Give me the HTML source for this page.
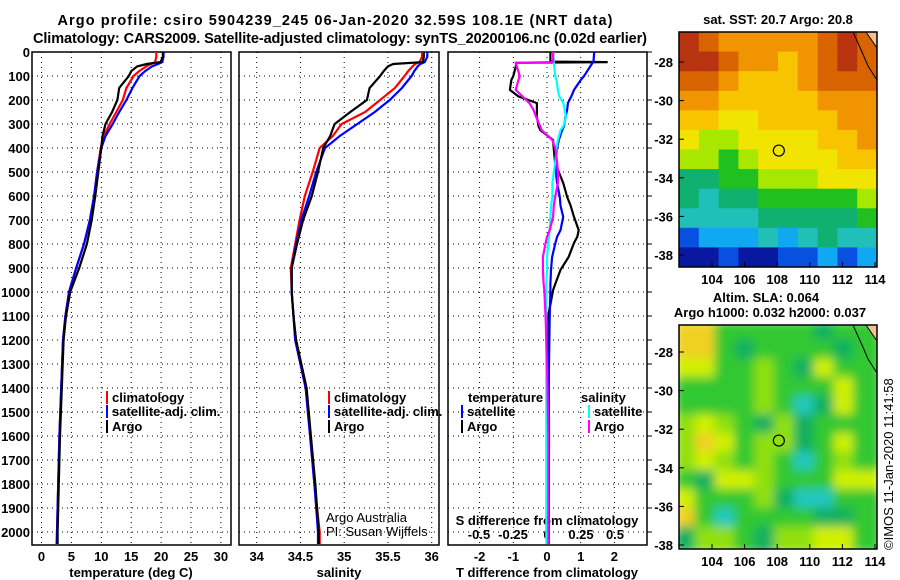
<!DOCTYPE html>
<html><head><meta charset="utf-8"><style>
body{margin:0;background:#fff}
svg{display:block;font-family:"Liberation Sans",Arial,sans-serif}
.b{font-weight:bold;font-size:13px}
</style></head><body>
<svg id="s" width="900" height="580" viewBox="0 0 900 580" xmlns="http://www.w3.org/2000/svg">
<defs><filter id="blur" x="0" y="0" width="100%" height="100%"><feGaussianBlur stdDeviation="5"/></filter>
<clipPath id="c1"><rect x="679" y="32" width="198" height="235"/></clipPath>
<clipPath id="c2"><rect x="679" y="325" width="198" height="224"/></clipPath></defs>
<text class="b" x="335" y="25" text-anchor="middle" style="font-size:14.5px" textLength="555">Argo profile: csiro 5904239_245 06-Jan-2020 32.59S 108.1E (NRT data)</text>
<text class="b" x="340" y="43" text-anchor="middle" style="font-size:14.5px" textLength="614">Climatology: CARS2009. Satellite-adjusted climatology: synTS_20200106.nc (0.02d earlier)</text>
<text class="b" x="778" y="24" text-anchor="middle">sat. SST: 20.7 Argo: 20.8</text>
<text class="b" x="766" y="302" text-anchor="middle">Altim. SLA: 0.064</text>
<text class="b" x="770" y="317" text-anchor="middle">Argo h1000: 0.032 h2000: 0.037</text>
<text x="893" y="550" transform="rotate(-90 893 550)" font-size="13">©IMOS 11-Jan-2020 11:41:58</text>
<text x="326" y="522" font-size="13">Argo Australia</text>
<text x="326" y="536" font-size="13">PI: Susan Wijffels</text>
<text class="b" x="131" y="577" text-anchor="middle">temperature (deg C)</text>
<text class="b" x="339" y="577" text-anchor="middle">salinity</text>
<text class="b" x="547" y="577" text-anchor="middle">T difference from climatology</text>
<text class="b" x="547" y="525" text-anchor="middle">S difference from climatology</text>
</svg>
<script>
const depths=[0,20,42,50,60,80,100,150,200,250,300,350,400,500,600,700,800,900,1000,1100,1200,1400,1600,1800,2000,2050];
const tClim=[19.2,19.2,19.0,18.3,17.5,16.3,15.4,14.2,13.6,12.5,11.4,10.4,9.9,9.3,8.8,8.1,7.1,5.8,4.6,4.0,3.6,3.3,3.0,2.8,2.6,2.5];
const tSat=[20.4,20.4,20.2,19.5,18.5,17.3,16.4,15.2,14.2,13.0,11.9,10.7,10.0,9.3,8.8,8.1,7.1,5.8,4.6,4.0,3.6,3.3,3.0,2.8,2.6,2.6];
const tArgo=[20.3,20.3,19.9,17.6,16.0,15.0,14.6,13.0,12.7,11.8,10.7,10.2,10.0,9.5,9.0,8.4,7.6,6.3,4.8,4.1,3.7,3.4,3.1,2.9,2.7,2.7];
const sClim=[35.89,35.89,35.86,35.81,35.78,35.73,35.69,35.58,35.41,35.24,34.97,34.87,34.72,34.64,34.55,34.49,34.44,34.39,34.40,34.42,34.44,34.56,34.61,34.66,34.72,34.72];
const sSat=[35.95,35.95,35.92,35.87,35.84,35.8,35.77,35.66,35.52,35.35,35.15,34.95,34.78,34.68,34.60,34.51,34.45,34.40,34.40,34.42,34.44,34.56,34.61,34.66,34.70,34.70];
const sArgo=[35.91,35.91,35.9,35.56,35.5,35.45,35.41,35.29,35.26,35.07,34.89,34.84,34.76,34.70,34.63,34.53,34.46,34.40,34.40,34.42,34.45,34.57,34.62,34.67,34.71,34.71];
const dDepths=[0,40,42,45,100,117,158,185,213,240,270,310,325,367,400,462,500,546,604,640,687,742,770,796,854,908,965,992,1104,1300,1600,2000,2050];
const tdArgo=[0.1,0.1,1.8,-0.9,-1.0,-1.06,-1.1,-0.85,-0.3,-0.3,-0.3,-0.25,-0.2,0.18,0.2,0.24,0.35,0.48,0.6,0.7,0.8,0.94,0.9,0.8,0.64,0.4,0.25,0.18,0.03,0.05,0.06,0.05,0.05];
const tdSat=[1.4,1.38,1.36,1.35,1.1,1.0,0.8,0.72,0.62,0.6,0.55,0.5,0.45,0.35,0.3,0.24,0.26,0.3,0.38,0.4,0.48,0.4,0.3,0.25,0.15,0.12,0.1,0.1,0.08,0.06,0.05,0.05,0.05];
const sdSat=[0.045,0.05,0.05,0.05,0.06,0.07,0.08,0.09,0.12,0.13,0.14,0.12,0.1,0.08,0.07,0.06,0.05,0.04,0.04,0.03,0.025,0.02,0.015,0.01,0,0,-0.005,-0.005,-0.005,-0.005,-0.005,-0.005,-0.005];
const sdArgo=[0.045,0.045,0.04,-0.23,-0.2,-0.21,-0.23,-0.18,-0.13,-0.1,-0.08,-0.05,-0.04,0.04,0.06,0.075,0.08,0.08,0.06,0.05,0.045,0.02,0,-0.01,-0.03,-0.03,-0.025,-0.02,-0.01,0,0.01,0.01,0.01];
const depthTicks=[0,100,200,300,400,500,600,700,800,900,1000,1100,1200,1300,1400,1500,1600,1700,1800,1900,2000];
const tTicks=[0,5,10,15,20,25,30];
const sTicks=[34,34.5,35,35.5,36];
const tdTicks=[-2,-1,0,1,2];
const sdTicks=[-0.5,-0.25,0,0.25,0.5];
const lonTicks=[104,106,108,110,112,114];
const latTicks=[-28,-30,-32,-34,-36,-38];
const sstRows=["BA99999ABA","BBA9989ABA","AA98889AAA","9988888999","8877888899","7667777889","6656777788","4455666777","4344555556","3333444445","1222323433","0010011212"];
const slaRows=["YYgggggdgg","YYgdggggdg","yygglgdygg","gggglgggyg","gggglgcdyg","lylgdldggg","lYyglldgyg","lylglgcglg","gdyylgggyy","ygggldccgg","Ygcggggddg","dllgdllyyg"];
const sstPal={"0":"#0818a0","1":"#0850e0","2":"#10a8f0","3":"#20c0b8","4":"#10b070","5":"#20c020","6":"#a8e800","7":"#f0e400","8":"#f8c400","9":"#f09400","A":"#d86400","B":"#b83410"};
const slaPal={Y:"#f0d020",y:"#d0f000",l:"#90e010",g:"#30c830",d:"#10b060",c:"#20c8c0"};
const S=document.getElementById('s'),NS="http://www.w3.org/2000/svg";
function el(t,a,p){const e=document.createElementNS(NS,t);for(const k in a)e.setAttribute(k,a[k]);(p||S).appendChild(e);return e;}
const yD=d=>52+0.24*d;
const xT=v=>41.5+5.98*v, xS=v=>256.7+87.5*(v-34), xTd=v=>547+33.7*v, xSd=v=>547+136*v;
const lonX=v=>712+16.3*(v-104), latY1=v=>62+19.3*(-28-v), latY2=v=>352+19.3*(-28-v);
const panels=[[32,231,xT,tTicks],[239,439,xS,sTicks],[448,647,xTd,tdTicks]];
panels.forEach((p,i)=>{
  const g=el('g',{});
  
  
  depthTicks.forEach(d=>{if(d>0){const l=el('line',{x1:p[0],x2:p[1],y1:yD(d),y2:yD(d),stroke:'#000','stroke-width':1,'stroke-dasharray':'1,4'},g);}});
  p[3].forEach(v=>{const x=p[2](v);const l=el('line',{x1:x,x2:x,y1:52,y2:545,stroke:'#000','stroke-width':1,'stroke-dasharray':'1,4'},g);
    const t=el('text',{x:x,y:561,'text-anchor':'middle',class:'b'},g);t.textContent=String(v);});
  const r=el('rect',{x:p[0],y:52,width:p[1]-p[0],height:493,fill:'none',stroke:'#000','stroke-width':1.5},g);
  
});
sdTicks.forEach(v=>{const t=el('text',{x:xSd(v),y:539,'text-anchor':'middle',class:'b'});t.textContent=String(v);});
depthTicks.forEach(d=>{const t=el('text',{x:30,y:yD(d)+5,'text-anchor':'end',class:'b'});t.textContent=String(d);
  el('line',{x1:647,x2:652,y1:yD(d),y2:yD(d),stroke:'#000'});});
function line(ds,vals,fx,col,name){const pts=ds.map((d,i)=>fx(vals[i]).toFixed(1)+','+yD(d).toFixed(1)).join(' ');const l=el('polyline',{points:pts,fill:'none',stroke:col,'stroke-width':2.2});}
line(depths,tClim,xT,'#f00','temp-climatology-line');line(depths,tSat,xT,'#00f','temp-satellite-line');line(depths,tArgo,xT,'#000','temp-argo-line');
line(depths,sClim,xS,'#f00','sal-climatology-line');line(depths,sSat,xS,'#00f','sal-satellite-line');line(depths,sArgo,xS,'#000','sal-argo-line');
line(dDepths,tdArgo,xTd,'#000','tdiff-argo-line');line(dDepths,tdSat,xTd,'#00f','tdiff-satellite-line');line(dDepths,sdSat,xSd,'#0ff','sdiff-satellite-line');line(dDepths,sdArgo,xSd,'#f0f','sdiff-argo-line');
function legend(x,y,col,txt){if(col){const r=el('rect',{x:x,y:y-11,width:2,height:13,fill:col});}
  const t=el('text',{x:x+6,y:y,class:'b'});t.textContent=txt;}
legend(106,402,'#f00','climatology');legend(106,416,'#00f','satellite-adj. clim.');legend(106,431,'#000','Argo');
legend(328,402,'#f00','climatology');legend(328,416,'#00f','satellite-adj. clim.');legend(328,431,'#000','Argo');
legend(462,402,null,'temperature');legend(461,416,'#00f','satellite');legend(461,431,'#000','Argo');
legend(575,402,null,'salinity');legend(588,416,'#0ff','satellite');legend(588,431,'#f0f','Argo');
function map(rows,pal,top,h,clip,blur,latY,name){
  const g=el('g',{'clip-path':'url(#'+clip+')'});
  const inner=el('g',blur?{filter:'url(#blur)'}:{},g);
  const cw=198/10,ch=h/12;
  rows.forEach((r,j)=>{for(let i=0;i<10;i++){const c=el('rect',{x:(679+i*cw-(blur?4:0)).toFixed(1),y:(top+j*ch-(blur?4:0)).toFixed(1),width:(cw+(blur?8:0.6)).toFixed(1),height:(ch+(blur?8:0.6)).toFixed(1),fill:pal[r[i]]},inner);}});
  el('path',{d:`M866 ${top} L877 ${top} L877 ${top+16} Z`,fill:'#f8c090'},g);
  el('path',{d:`M853 ${top} L862 ${top+20} L868 ${top+34} L877 ${top+48}`,fill:'none',stroke:'#000','stroke-width':1},g);
  el('path',{d:`M866 ${top} L877 ${top+16}`,fill:'none',stroke:'#000','stroke-width':1},g);
  const c=el('circle',{cx:lonX(108.1),cy:latY(-32.59),r:5.5,fill:'none',stroke:'#000','stroke-width':1.2});
  const f=el('rect',{x:679,y:top,width:198,height:h,fill:'none',stroke:'#000','stroke-width':1.5});
  latTicks.forEach(v=>{const t=el('text',{x:673,y:latY(v)+5,'text-anchor':'end',class:'b'});t.textContent=String(v);el('line',{x1:679,x2:684,y1:latY(v),y2:latY(v),stroke:'#000'});});
  lonTicks.forEach(v=>{const t=el('text',{x:lonX(v),y:top+h+17,'text-anchor':'middle',class:'b'});t.textContent=String(v);el('line',{x1:lonX(v),x2:lonX(v),y1:top+h,y2:top+h-5,stroke:'#000'});});
}
map(sstRows,sstPal,32,235,'c1',false,latY1,'sst-map');
map(slaRows,slaPal,325,224,'c2',true,latY2,'sla-map');
</script>
</body></html>
